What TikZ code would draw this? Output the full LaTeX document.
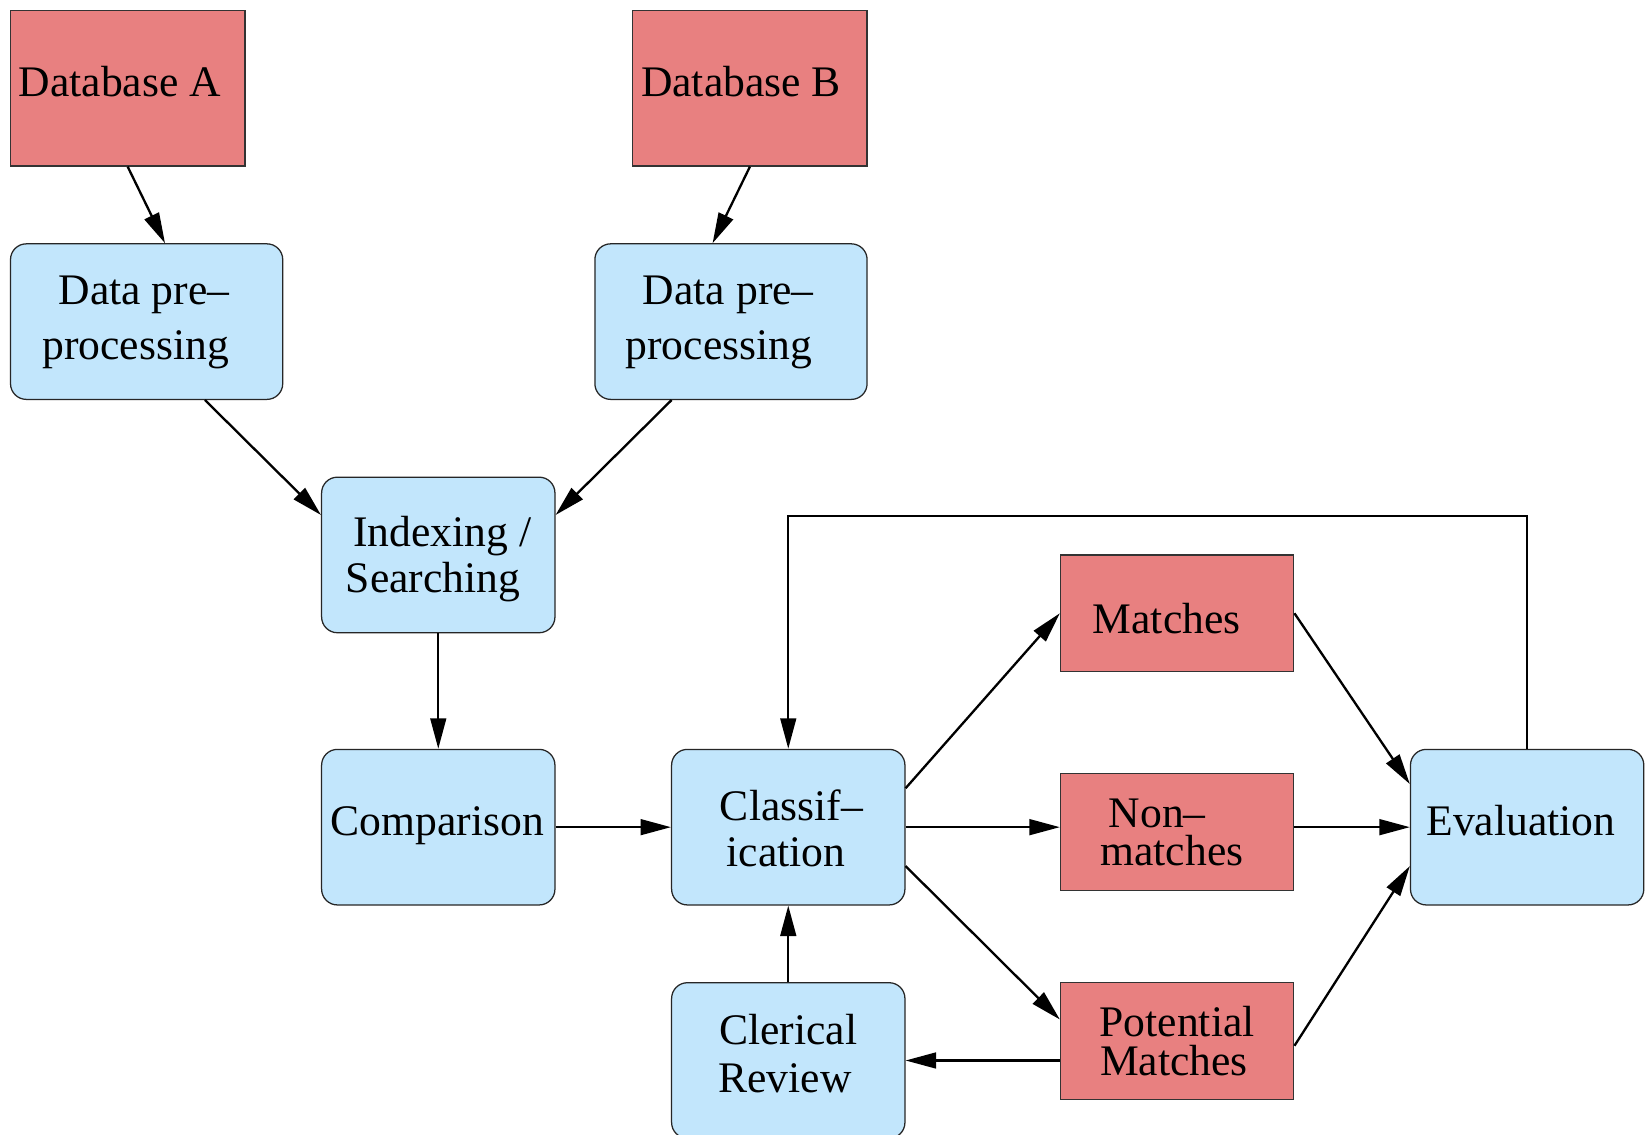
\documentclass[tikz,border=0pt]{standalone}
\usepackage{fontspec}
\setmainfont{Liberation Serif}
\usetikzlibrary{arrows.meta}
\definecolor{boxred}{RGB}{232,128,128}
\definecolor{boxblue}{RGB}{194,230,252}
\begin{document}
\begin{tikzpicture}[x=1pt,y=-1pt,
  redbox/.style={draw=black!80,line width=1.2pt,fill=boxred,rectangle,inner sep=0pt,minimum width=222pt,minimum height=111pt},
  bluebox/.style={draw=black!85,line width=1.2pt,fill=boxblue,rectangle,rounded corners=15pt,inner sep=0pt,minimum width=222pt,minimum height=148pt},
  lbl/.style={anchor=base,inner sep=0pt,font=\fontsize{41.5}{48}\selectfont},
  conn/.style={line width=2.2pt,-{Triangle[length=29pt,width=15pt]}}]
\useasboundingbox (0,0) rectangle (1568,1079);
\fill[white] (0,0) rectangle (1568,1079);

% boxes
\node[redbox,minimum width=223pt,minimum height=148pt] (dbA) at (121.5,84) {};
\node[redbox,minimum width=223pt,minimum height=148pt] (dbB) at (713.5,84) {};
\node[bluebox,minimum width=259pt] (prepA) at (139.5,306) {};
\node[bluebox,minimum width=259pt] (prepB) at (695.5,306) {};
\node[bluebox] (idx) at (417,528) {};
\node[bluebox] (comp) at (417,787) {};
\node[bluebox] (cls) at (750,787) {};
\node[bluebox] (cler) at (750,1009) {};
\node[redbox] (mat) at (1120,583.5) {};
\node[redbox] (non) at (1120,791.5) {};
\node[redbox] (pot) at (1120,990.5) {};
\node[bluebox] (eval) at (1453,787) {};

% labels
\node[lbl] (tdbA) at (114,92) {Database A};
\node[lbl] (tdbB) at (705,92) {Database B};
\node[lbl] (tprepA1) at (137,290) {Data pre–};
\node[lbl] (tprepA2) at (129,342) {processing};
\node[lbl] (tprepB1) at (693,290) {Data pre–};
\node[lbl] (tprepB2) at (684,342) {processing};
\node[lbl] (tidx1) at (421,520) {Indexing /};
\node[lbl] (tidx2) at (412,564) {Searching};
\node[lbl] (tcomp) at (416,795) {Comparison};
\node[lbl] (tcls1) at (753,781) {Classif–};
\node[lbl] (tcls2) at (748,824) {ication};
\node[lbl] (tcler1) at (750,994) {Clerical};
\node[lbl] (tcler2) at (747,1039) {Review};
\node[lbl] (tmat) at (1110,603) {Matches};
\node[lbl] (tnon1) at (1101,787) {Non–};
\node[lbl] (tnon2) at (1115,823) {matches};
\node[lbl] (tpot1) at (1120,986.5) {Potential};
\node[lbl] (tpot2) at (1117,1023) {Matches};
\node[lbl] (teval) at (1447,795) {Evaluation};

% connectors
\draw[conn] (dbA.south) -- ([xshift=17.5pt]prepA.north);
\draw[conn] (dbB.south) -- ([xshift=-17.5pt]prepB.north);
\draw[conn] ([xshift=55.5pt]prepA.south) -- ([yshift=38pt]idx.west);
\draw[conn] ([xshift=-56.5pt]prepB.south) -- ([yshift=38pt]idx.east);
\draw[conn] (idx.south) -- (comp.north);
\draw[conn] (comp.east) -- (cls.west);
\draw[conn] ([yshift=37pt]cls.east) -- (mat.west);
\draw[conn] (cls.east) -- (cls.east -| non.west);
\draw[conn] ([yshift=-37pt]cls.east) -- ([yshift=20.5pt]pot.west);
\draw[conn] ([yshift=-18.5pt]pot.west) -- (cler.east);
\draw[conn] (cler.north) -- (cls.south);
\draw[conn] (mat.east) -- ([yshift=41pt]eval.west);
\draw[conn] (eval.west -| non.east) -- (eval.west);
\draw[conn] ([yshift=-4.5pt]pot.east) -- ([yshift=-37pt]eval.west);
\draw[conn] (eval.north) -- (eval.north |- 0,491) -- (cls.north |- 0,491) -- (cls.north);
\end{tikzpicture}
\end{document}
